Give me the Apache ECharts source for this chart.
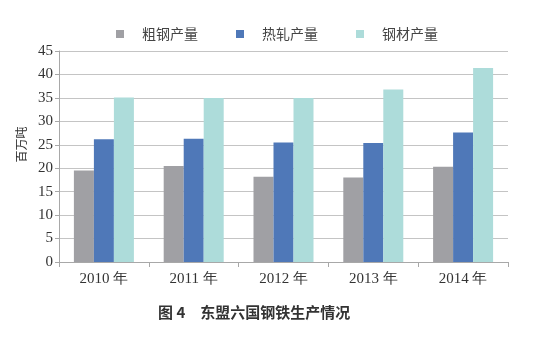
<!DOCTYPE html>
<html><head><meta charset="utf-8">
<script src="https://cdn.jsdelivr.net/npm/echarts@6/dist/echarts.min.js"></script>
<style>html,body{margin:0;padding:0;background:#fff}#c{width:533px;height:356px}</style>
</head><body><div id="c"></div>
<script>
const categories = ['2010 年', '2011 年', '2012 年', '2013 年', '2014 年'];
const crudeSteel = [19.5, 20.5, 18.2, 18.0, 20.3];
const hotRolled = [26.2, 26.3, 25.5, 25.4, 27.6];
const steelProducts = [35.1, 35.0, 35.0, 36.8, 41.4];
const seriesNames = ['粗钢产量', '热轧产量', '钢材产量'];
const colors = ['#a0a0a4', '#4f78b8', '#addcda'];
const yMin = 0, yMax = 45, yInterval = 5;

const chart = echarts.init(document.getElementById('c'));
const serif = '"Liberation Serif", "DejaVu Serif", serif';
const cjk = '"Noto Sans CJK SC", sans-serif';
chart.setOption({
  animation: false,
  color: colors,
  title: {
    text: '图 4　东盟六国钢铁生产情况',
    left: 153, top: 300,
    textStyle: { fontFamily: cjk, fontSize: 15, fontWeight: 'bold', color: '#333' }
  },
  legend: {
    top: 22, left: 111,
    itemWidth: 8, itemHeight: 8, itemGap: 38,
    icon: 'rect',
    textStyle: { fontFamily: cjk, fontSize: 14, color: '#444', padding: [0,0,0,13] },
    data: seriesNames
  },
  grid: { left: 59, right: 25, top: 51, bottom: 94 },
  xAxis: {
    type: 'category', data: categories,
    axisLine: { lineStyle: { color: '#a8a8a8' } },
    axisTick: { show: true, length: 5, lineStyle: { color: '#a8a8a8' } },
    axisLabel: { fontFamily: serif, fontSize: 15, color: '#333', margin: 10 }
  },
  yAxis: {
    type: 'value', min: yMin, max: yMax, interval: yInterval,
    name: '百万吨', nameLocation: 'middle', nameGap: 31, nameRotate: 90,
    nameTextStyle: { fontFamily: cjk, fontSize: 12, color: '#333', padding: [0, 0, 0, 24] },
    axisLine: { show: true, lineStyle: { color: '#a8a8a8' } },
    axisTick: { show: true, inside: false, length: 4, lineStyle: { color: '#a8a8a8' } },
    axisLabel: { fontFamily: serif, fontSize: 15, color: '#333', margin: 6 },
    splitLine: { lineStyle: { color: '#c4c4c4' } }
  },
  series: [
    { name: seriesNames[0], type: 'bar', data: crudeSteel, barWidth: 20, barGap: '0%' },
    { name: seriesNames[1], type: 'bar', data: hotRolled, barWidth: 20, barGap: '0%' },
    { name: seriesNames[2], type: 'bar', data: steelProducts, barWidth: 20, barGap: '0%' }
  ]
});
</script></body></html>
